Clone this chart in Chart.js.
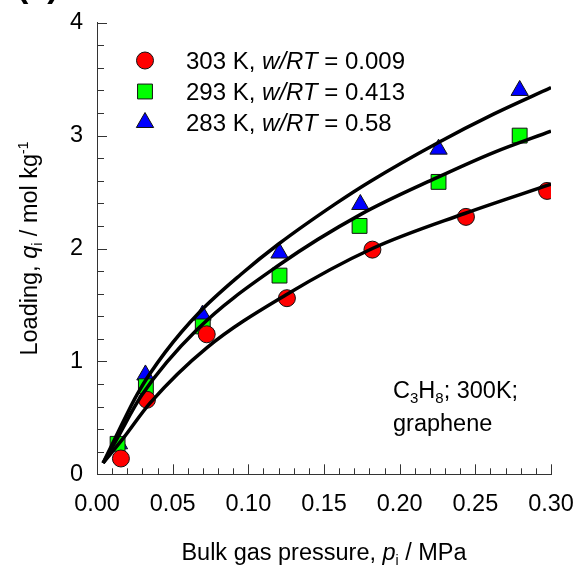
<!DOCTYPE html>
<html>
<head>
<meta charset="utf-8">
<script src="https://cdn.jsdelivr.net/npm/chart.js@4.4.0/dist/chart.umd.min.js"></script>
<style>
  html, body { margin: 0; padding: 0; background: #fff; }
</style>
</head>
<body>
<canvas id="chart" width="576" height="566"></canvas>
<script>
const FONT = '"Liberation Sans", Arial, sans-serif';

// measured points: bulk pressure (MPa) and loading (mol/kg)
const p303 = [0.0158, 0.0330, 0.0725, 0.1255, 0.1820, 0.2438, 0.2974];
const q303 = [0.14, 0.66, 1.24, 1.56, 1.99, 2.28, 2.51];
const p293 = [0.0136, 0.0323, 0.0699, 0.1206, 0.1735, 0.2257, 0.2793];
const q293 = [0.27, 0.78, 1.31, 1.76, 2.20, 2.59, 3.00];
const p283 = [0.0145, 0.0320, 0.0697, 0.1206, 0.1740, 0.2257, 0.2793];
const q283 = [0.27, 0.88, 1.41, 1.96, 2.39, 2.88, 3.40];

// fitted isotherm curves
const fitP303 = [0.004, 0.0174, 0.035, 0.0725, 0.125, 0.182, 0.2429, 0.300];
const fitQ303 = [0.10, 0.32, 0.63, 1.12, 1.59, 2.00, 2.31, 2.57];
const fitP293 = [0.004, 0.013, 0.0295, 0.066, 0.121, 0.174, 0.225, 0.262, 0.300];
const fitQ293 = [0.10, 0.31, 0.70, 1.28, 1.86, 2.30, 2.63, 2.85, 3.04];
const fitP283 = [0.004, 0.012, 0.027, 0.045, 0.068, 0.095, 0.120, 0.158, 0.180, 0.225, 0.262, 0.300];
const fitQ283 = [0.10, 0.32, 0.72, 1.08, 1.44, 1.77, 2.04, 2.40, 2.59, 2.935, 3.19, 3.425];

const xTicks = [0, 0.05, 0.10, 0.15, 0.20, 0.25, 0.30];
const yTicks = [0, 1, 2, 3, 4];
const tempLabels = ['303 K, ', '293 K, ', '283 K, '];
const wRT = ['0.009', '0.413', '0.58'];

const pts = (xs, ys) => xs.map((x, i) => ({ x: x, y: ys[i] }));

function markerSet(label, xs, ys, m) {
  return {
    label: label, data: pts(xs, ys), showLine: false, order: 2,
    pointStyle: m.style, pointRadius: m.r, pointHoverRadius: m.r,
    backgroundColor: m.color, borderColor: '#111', borderWidth: 1
  };
}
function fitLine(xs, ys) {
  return {
    data: pts(xs, ys), showLine: true, order: 0, pointRadius: 0,
    borderColor: '#000', borderWidth: 3.5, cubicInterpolationMode: 'monotone', fill: false
  };
}

const markers = [
  { style: 'circle', color: '#ff0000', r: 8.5 },
  { style: 'rect', color: '#00ff00', r: 10.5 },
  { style: 'triangle', color: '#0000ff', r: 10 }
];

// draw a list of text runs starting at x on baseline y
function runs(ctx, x, y, list, measureOnly) {
  let cx = x;
  list.forEach(r => {
    ctx.font = (r.i ? 'italic ' : '') + (r.b ? 'bold ' : '') + (r.s || 23.5) + 'px ' + FONT;
    if (!measureOnly) ctx.fillText(r.t, cx, y + (r.dy || 0));
    cx += ctx.measureText(r.t).width;
  });
  return cx - x;
}

const decor = {
  id: 'decor',
  afterDraw(chart) {
    const ctx = chart.ctx;
    const xs = chart.scales.x, ys = chart.scales.y;
    const area = chart.chartArea;
    ctx.save();
    ctx.strokeStyle = '#333';
    ctx.lineWidth = 1;
    // inward ticks, minor every 0.01 / 0.2
    for (let k = 0; k <= 30; k++) {
      const px = Math.round(xs.getPixelForValue(k / 100)) + 0.5;
      const len = k % 5 === 0 ? 10 : 6;
      ctx.beginPath(); ctx.moveTo(px, area.bottom); ctx.lineTo(px, area.bottom - len); ctx.stroke();
    }
    for (let k = 0; k <= 20; k++) {
      const py = Math.round(ys.getPixelForValue(k / 5)) + 0.5;
      const len = k % 5 === 0 ? 10 : 7;
      ctx.beginPath(); ctx.moveTo(area.left, py); ctx.lineTo(area.left + len, py); ctx.stroke();
    }

    ctx.fillStyle = '#000';
    ctx.textAlign = 'left';
    ctx.textBaseline = 'alphabetic';

    // legend
    const rowY = [60.5, 91.5, 122.5];
    markers.forEach((m, i) => {
      ctx.fillStyle = m.color; ctx.strokeStyle = '#111'; ctx.lineWidth = 1;
      Chart.helpers.drawPoint(ctx, { pointStyle: m.style, radius: m.r, rotation: 0, borderWidth: 1 }, 145, rowY[i]);
      ctx.fillStyle = '#000';
      runs(ctx, 186, rowY[i] + 8.5, [
        { t: tempLabels[i], s: 24 }, { t: 'w/RT', i: true, s: 24 }, { t: ' = ' + wRT[i], s: 24 }
      ]);
    });

    // annotation
    runs(ctx, 393, 397.5, [
      { t: 'C' }, { t: '3', s: 15, dy: 5 }, { t: 'H' }, { t: '8', s: 15, dy: 5 }, { t: '; 300K;' }
    ]);
    runs(ctx, 393, 431, [{ t: 'graphene' }]);

    // x title
    const xt = [{ t: 'Bulk gas pressure, ' }, { t: 'p', i: true }, { t: 'i', s: 14, dy: 5 }, { t: ' / MPa' }];
    const xw = runs(ctx, 0, 0, xt, true);
    runs(ctx, (area.left + area.right) / 2 - xw / 2, 560, xt);

    // y title
    const yt = [{ t: 'Loading, ' }, { t: 'q', i: true }, { t: 'i', s: 14, dy: 5 }, { t: ' / mol kg' }, { t: '-1', s: 14, dy: -9 }];
    const yw = runs(ctx, 0, 0, yt, true);
    ctx.save();
    ctx.translate(37, (area.top + area.bottom) / 2);
    ctx.rotate(-Math.PI / 2);
    runs(ctx, -yw / 2, 0, yt);
    ctx.restore();

    // panel label, mostly cut off at the top
    runs(ctx, 17, -3, [{ t: '(a)', b: true, s: 34 }]);
    ctx.restore();
  }
};

new Chart(document.getElementById('chart'), {
  type: 'scatter',
  data: {
    datasets: [
      markerSet('303 K', p303, q303, markers[0]),
      markerSet('293 K', p293, q293, markers[1]),
      markerSet('283 K', p283, q283, markers[2]),
      fitLine(fitP303, fitQ303),
      fitLine(fitP293, fitQ293),
      fitLine(fitP283, fitQ283)
    ]
  },
  options: {
    responsive: false,
    animation: false,
    devicePixelRatio: 1,
    layout: { padding: { top: 22.7, right: 25, left: 0, bottom: 0 } },
    plugins: { legend: { display: false }, tooltip: { enabled: false } },
    scales: {
      x: {
        type: 'linear', min: 0, max: 0.3,
        afterBuildTicks: s => { s.ticks = xTicks.map(v => ({ value: v })); },
        afterFit: s => { s.height = 91.7; s.paddingLeft = 0; s.paddingRight = 0; },
        grid: { drawOnChartArea: false, drawTicks: false },
        border: { display: true, color: '#333', width: 1 },
        ticks: {
          padding: 16, color: '#000', maxRotation: 0, autoSkip: false,
          font: { family: FONT, size: 23.5 },
          callback: v => v.toFixed(2)
        }
      },
      y: {
        type: 'linear', min: 0, max: 4,
        afterBuildTicks: s => { s.ticks = yTicks.map(v => ({ value: v })); },
        afterFit: s => { s.width = 97; s.paddingTop = 0; s.paddingBottom = 0; },
        grid: { drawOnChartArea: false, drawTicks: false },
        border: { display: true, color: '#333', width: 1 },
        ticks: {
          padding: 14, color: '#000', autoSkip: false,
          font: { family: FONT, size: 23.5 },
          callback: v => String(v)
        }
      }
    }
  },
  plugins: [decor]
});
</script>
</body>
</html>
